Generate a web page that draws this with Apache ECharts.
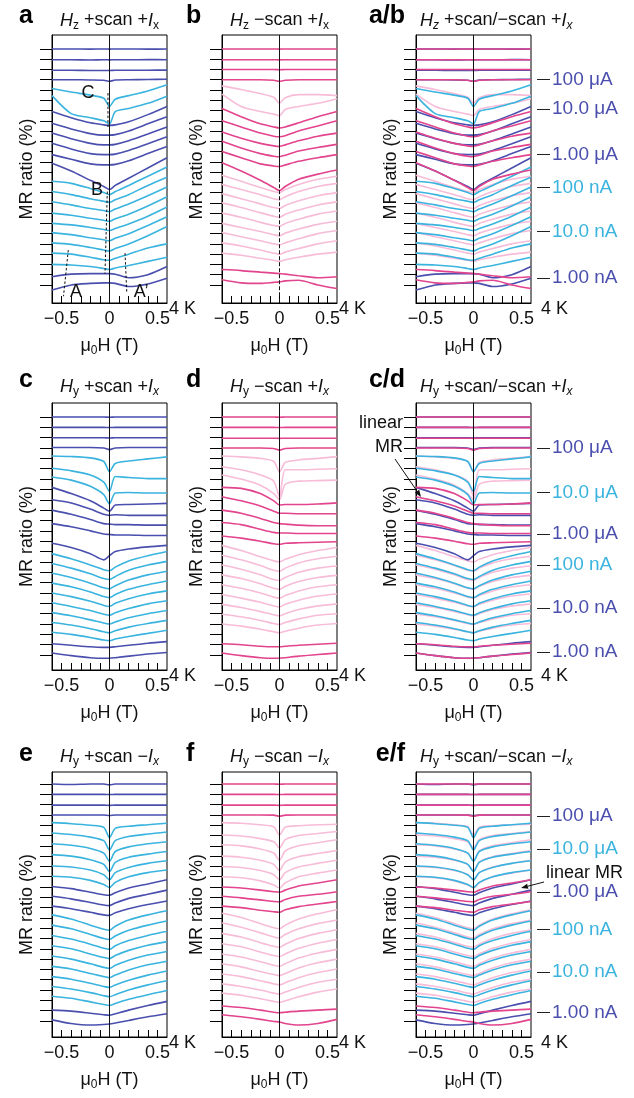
<!DOCTYPE html>
<html><head><meta charset="utf-8">
<script src="https://cdn.jsdelivr.net/npm/echarts@6/dist/echarts.min.js"></script>
<style>html,body{margin:0;padding:0;background:#fff}#c{width:634px;height:1098px}</style>
</head><body><div id="c"></div>
<script>
// ---------------- data ----------------
const fieldT = [-0.6, -0.4, -0.2, -0.06, 0, 0.06, 0.2, 0.4, 0.6];
const xTicks = [-0.5, -0.4, -0.3, -0.2, -0.1, 0, 0.1, 0.2, 0.3, 0.4, 0.5];
const xTickLabels = [-0.5, 0, 0.5];
const yTicks = [0,1,2,3,4,5,6,7,8,9,10,11,12,13,14,15,16,17,18,19,20,21,22,23];

const tonesA = 'DDDDCCDDDDDDCCCCCCCCCDD'.split('');
const curvesA = [
 [0,0,0.02,0,0.02,0,0,0.02,0],
 [1.05,1.05,1.07,1.05,1.06,1.05,1.05,1.04,1.05],
 [2.08,2.08,2.1,2.1,2.1,2.08,2.08,2.07,2.06],
 [3.0,3.0,3.02,3.05,3.15,3.03,3.0,2.98,2.95],
 [3.85,4.2,4.5,4.8,5.6,4.9,4.55,4.1,3.5],
 [4.55,6.3,6.7,7.0,7.3,6.1,5.8,5.3,4.6],
 [6.1,6.7,7.2,7.4,7.45,7.4,7.1,6.4,5.6],
 [7.25,7.8,8.25,8.4,8.4,8.35,8.0,7.3,6.6],
 [8.2,8.75,9.2,9.35,9.35,9.3,8.95,8.3,7.6],
 [9.2,9.75,10.2,10.3,10.3,10.25,9.9,9.25,8.55],
 [10.3,10.75,11.2,11.3,11.3,11.25,10.9,10.2,9.5],
 [11.15,11.9,12.8,13.4,13.7,13.3,12.6,11.6,10.6],
 [12.9,13.1,13.6,14.0,14.2,13.9,13.3,12.4,11.5],
 [13.9,14.2,14.6,14.85,14.95,14.7,14.2,13.3,12.5],
 [14.9,15.2,15.55,15.75,15.85,15.6,15.1,14.3,13.45],
 [16.0,16.2,16.5,16.7,16.8,16.55,16.1,15.3,14.4],
 [17.0,17.15,17.4,17.6,17.7,17.5,17.05,16.3,15.4],
 [17.9,18.1,18.4,18.6,18.7,18.45,18.0,17.2,16.35],
 [18.9,19.05,19.35,19.6,19.7,19.45,19.0,18.2,17.3],
 [19.9,20.0,20.3,20.55,20.6,20.4,20.0,19.4,19.0],
 [21.0,21.05,21.2,21.4,21.5,21.35,21.1,20.7,20.3],
 [22.2,21.95,21.9,21.9,21.9,21.95,22.3,22.0,21.2],
 [23.5,23.0,22.85,22.8,22.8,22.85,23.15,22.9,22.35]
];

const tonesB = 'PPPPLLPPPPPPLLLLLLLLLPP'.split('');
const curvesB = [
 [0,0,0,0,0.02,0,0,0,0],
 [1.05,1.05,1.05,1.05,1.06,1.05,1.05,1.05,1.05],
 [2.0,2.0,2.0,2.0,2.02,2.0,2.0,2.0,2.0],
 [3.0,3.0,3.0,3.05,3.15,3.05,3.0,3.0,3.0],
 [3.6,3.95,4.35,4.7,5.3,4.75,4.45,4.45,4.55],
 [4.4,5.6,6.1,6.35,6.5,5.9,5.6,5.3,4.85],
 [5.8,6.6,7.3,7.6,7.7,7.6,7.2,6.6,6.1],
 [7.0,7.6,8.2,8.5,8.55,8.45,8.0,7.5,7.0],
 [8.1,8.7,9.2,9.45,9.5,9.35,8.95,8.5,8.2],
 [9.0,9.65,10.2,10.45,10.5,10.35,9.95,9.6,9.3],
 [10.0,10.6,11.2,11.4,11.45,11.3,10.95,10.6,10.3],
 [11.1,11.9,12.8,13.5,13.8,13.4,12.7,12.2,11.8],
 [12.3,12.9,13.5,13.9,14.0,13.7,13.2,12.7,12.4],
 [13.2,13.7,14.2,14.6,14.7,14.4,13.9,13.4,13.1],
 [14.1,14.6,15.1,15.45,15.55,15.25,14.8,14.3,14.0],
 [15.0,15.45,15.95,16.3,16.4,16.1,15.7,15.2,14.9],
 [16.0,16.4,16.9,17.2,17.3,17.0,16.6,16.1,15.8],
 [17.0,17.4,17.8,18.1,18.2,17.95,17.55,17.1,16.8],
 [17.9,18.3,18.7,19.0,19.1,18.9,18.5,18.0,17.7],
 [18.9,19.2,19.6,19.9,20.0,19.8,19.45,19.0,18.7],
 [19.9,20.1,20.4,20.6,20.7,20.55,20.3,20.0,19.8],
 [21.5,21.6,21.75,21.85,21.9,21.95,22.1,22.3,22.2],
 [22.5,22.8,22.85,22.75,22.7,22.6,22.55,23.0,23.35]
];

const tonesC = 'DDDDCCCDDDDDCCCCCCCCCDD'.split('');
const curvesC = [
 [0,0,0,0,0.02,0,0,0,0],
 [1.0,1.0,1.0,1.0,1.02,1.0,1.0,1.0,1.0],
 [2.0,2.0,2.0,2.0,2.03,2.0,2.0,2.0,2.0],
 [2.95,2.95,2.95,3.0,3.15,3.0,2.95,2.95,2.95],
 [3.77,3.82,3.95,4.3,5.3,4.5,4.25,4.05,3.85],
 [4.95,5.2,5.6,6.3,7.2,5.75,5.85,5.95,5.95],
 [5.8,6.1,6.7,7.5,8.4,7.35,7.3,7.35,7.35],
 [6.8,7.4,8.1,8.8,9.1,8.5,8.45,8.4,8.35],
 [8.0,8.3,8.9,9.4,9.5,9.45,9.5,9.5,9.5],
 [9.0,9.4,9.9,10.3,10.35,10.4,10.4,10.45,10.45],
 [10.3,10.6,11.0,11.3,11.35,11.4,11.4,11.45,11.45],
 [12.2,12.6,13.2,13.8,13.4,13.0,12.75,12.55,12.4],
 [13.2,13.7,14.3,14.75,14.85,14.5,13.9,13.4,13.0],
 [14.15,14.6,15.15,15.6,15.7,15.4,14.8,14.3,13.95],
 [15.1,15.5,16.05,16.5,16.6,16.3,15.75,15.25,14.9],
 [16.05,16.4,16.9,17.35,17.45,17.15,16.65,16.2,15.85],
 [17.0,17.35,17.8,18.2,18.3,18.0,17.55,17.1,16.8],
 [17.95,18.3,18.7,19.05,19.15,18.9,18.5,18.05,17.75],
 [18.9,19.2,19.6,19.9,20.0,19.8,19.4,19.0,18.7],
 [19.85,20.1,20.45,20.75,20.85,20.65,20.3,19.95,19.65],
 [20.8,21.0,21.3,21.55,21.6,21.45,21.2,20.9,20.6],
 [21.9,22.05,22.2,22.25,22.25,22.2,22.05,21.85,21.7],
 [22.8,23.05,23.25,23.3,23.3,23.25,23.1,22.9,22.75]
];

const tonesD = 'PPPPLLLPPPPPLLLLLLLLLPP'.split('');
const curvesD = [
 [0,0,0,0,0.02,0,0,0,0],
 [1.0,1.0,1.0,1.0,1.02,1.0,1.0,1.0,1.0],
 [2.05,2.05,2.05,2.05,2.07,2.05,2.05,2.05,2.05],
 [3.0,3.0,3.0,3.05,3.2,3.05,3.0,3.0,3.0],
 [3.77,3.85,4.0,4.3,5.3,4.4,4.15,4.0,3.83],
 [4.8,5.1,5.6,6.2,7.7,5.1,5.1,5.05,5.0],
 [5.6,6.0,6.6,7.4,8.0,6.5,6.2,6.15,6.1],
 [6.8,6.9,7.4,8.1,8.5,8.45,8.45,8.4,8.3],
 [7.7,8.1,8.6,9.1,9.3,9.3,9.35,9.35,9.35],
 [9.0,9.3,9.8,10.2,10.3,10.35,10.45,10.5,10.5],
 [10.2,10.4,10.85,11.15,11.2,11.2,11.25,11.25,11.25],
 [11.5,11.7,12.0,12.25,12.3,12.2,12.15,12.1,12.05],
 [12.4,12.9,13.5,13.9,14.0,13.75,13.3,12.9,12.6],
 [13.35,13.8,14.35,14.8,14.9,14.6,14.1,13.7,13.45],
 [14.3,14.7,15.25,15.7,15.8,15.5,15.0,14.6,14.4],
 [15.25,15.6,16.1,16.55,16.65,16.35,15.9,15.5,15.3],
 [16.2,16.55,17.0,17.4,17.5,17.25,16.8,16.4,16.2],
 [17.15,17.5,17.9,18.25,18.35,18.1,17.7,17.3,17.1],
 [18.1,18.4,18.8,19.1,19.2,19.0,18.6,18.25,18.05],
 [19.05,19.3,19.65,19.95,20.05,19.85,19.5,19.15,19.0],
 [20.0,20.2,20.5,20.75,20.85,20.7,20.4,20.1,19.95],
 [21.9,22.0,22.15,22.2,22.2,22.15,22.05,21.95,21.85],
 [22.8,23.05,23.25,23.3,23.3,23.25,23.1,22.95,22.8]
];

const tonesE = 'DDDDCCCCCCDDDCCCCCCCCCDD'.split('');
const curvesE = [
 [0,0.05,0,0,0.08,0,0,0,0],
 [1.0,1.0,1.0,1.0,1.02,1.0,1.0,1.0,1.0],
 [2.05,2.05,2.05,2.05,2.07,2.05,2.05,2.05,2.05],
 [3.0,3.0,3.0,3.0,3.05,3.0,3.0,3.0,3.0],
 [3.75,3.85,4.0,4.2,5.2,4.3,4.1,3.95,3.8],
 [4.75,4.9,5.15,5.5,6.4,5.5,5.1,4.85,4.65],
 [5.8,5.95,6.25,6.7,7.5,6.55,6.1,5.8,5.6],
 [6.85,7.0,7.35,7.8,8.5,7.6,7.1,6.8,6.55],
 [7.95,8.05,8.35,8.8,9.3,8.6,8.1,7.7,7.45],
 [8.95,9.05,9.35,9.75,10.05,9.55,9.0,8.6,8.35],
 [9.95,10.15,10.5,10.75,10.8,10.55,10.1,9.7,9.3],
 [10.9,11.15,11.5,11.75,11.8,11.55,11.1,10.7,10.3],
 [11.85,12.1,12.45,12.7,12.75,12.5,12.1,11.7,11.35],
 [12.7,13.1,13.7,14.1,14.2,13.8,13.2,12.7,12.3],
 [13.7,14.05,14.6,15.0,15.1,14.75,14.2,13.7,13.3],
 [14.7,15.05,15.55,15.95,16.05,15.7,15.2,14.7,14.3],
 [15.7,16.0,16.5,16.85,16.95,16.65,16.15,15.65,15.3],
 [16.7,17.0,17.45,17.8,17.9,17.6,17.1,16.6,16.25],
 [17.7,17.95,18.4,18.7,18.8,18.55,18.05,17.55,17.2],
 [18.7,18.95,19.35,19.65,19.75,19.5,19.05,18.55,18.15],
 [19.65,19.9,20.25,20.55,20.65,20.45,20.0,19.5,19.1],
 [20.6,20.8,21.15,21.4,21.5,21.3,20.9,20.45,20.05],
 [21.95,22.05,22.25,22.4,22.45,22.3,21.95,21.5,21.1],
 [22.9,23.25,23.4,23.35,23.3,23.2,22.95,22.6,22.3]
];

const tonesF = 'PPPPLLLLLLPPPLLLLLLLLLPP'.split('');
const curvesF = [
 [0,0,0,0,0.02,0,0,0,0],
 [1.0,1.0,1.0,1.0,1.02,1.0,1.0,1.0,1.0],
 [2.05,2.05,2.05,2.05,2.07,2.05,2.05,2.05,2.05],
 [3.0,3.0,3.0,3.02,3.12,3.02,3.0,3.0,3.0],
 [3.75,3.8,3.95,4.15,4.95,4.2,4.05,3.95,3.9],
 [4.95,5.05,5.3,5.6,6.2,5.4,5.0,4.8,4.6],
 [5.9,6.0,6.3,6.7,7.4,6.5,6.0,5.7,5.4],
 [7.0,7.1,7.4,7.8,8.4,7.55,7.05,6.75,6.45],
 [8.0,8.1,8.4,8.8,9.3,8.6,8.05,7.7,7.4],
 [9.0,9.1,9.4,9.8,10.1,9.6,9.0,8.65,8.35],
 [10.0,10.1,10.3,10.45,10.5,10.3,9.9,9.6,9.3],
 [10.9,11.05,11.25,11.4,11.45,11.2,10.9,10.7,10.45],
 [11.85,12.0,12.25,12.4,12.45,12.2,11.9,11.65,11.4],
 [12.55,12.95,13.55,13.95,14.05,13.7,13.1,12.6,12.2],
 [13.5,13.9,14.45,14.85,14.95,14.6,14.05,13.55,13.2],
 [14.5,14.85,15.4,15.75,15.85,15.55,15.0,14.5,14.15],
 [15.5,15.8,16.3,16.65,16.75,16.5,15.95,15.45,15.1],
 [16.5,16.8,17.25,17.6,17.7,17.45,16.9,16.4,16.05],
 [17.45,17.75,18.2,18.5,18.6,18.4,17.85,17.35,17.0],
 [18.45,18.7,19.1,19.4,19.5,19.3,18.8,18.3,17.95],
 [19.4,19.65,20.0,20.3,20.4,20.2,19.75,19.25,18.95],
 [20.3,20.5,20.85,21.1,21.2,21.05,20.65,20.2,19.9],
 [21.55,21.7,21.95,22.15,22.2,22.15,22.05,21.95,21.85],
 [22.4,22.6,22.85,23.05,23.1,23.25,23.4,23.25,22.85]
];

const currentLabels = ['100 μA','10.0 μA','1.00 μA','100 nA','10.0 nA','1.00 nA'];
const currentPosAB = [3.0, 5.85, 10.3, 13.5, 17.8, 22.3];
const currentToneAB = ['D','D','D','C','C','D'];
const currentPosCD = [3.0, 7.3, 11.3, 14.3, 18.45, 22.7];
const currentToneCD = ['D','C','D','C','D','D'];
const currentPosEF = [3.1, 6.3, 10.5, 14.1, 18.25, 22.2];
const currentToneEF = ['D','C','D','C','C','D'];

// annotation marks of panel a (field, curve units)
const annoLinesA = [[-0.016,4.3,-0.016,7.6],[-0.023,13.9,-0.047,21.9],[-0.43,19.6,-0.48,24.1],[0.162,19.9,0.18,23.65]];
const annoTextA = [['C',-0.224,4.3],['B',-0.13,13.75],['A',-0.35,23.7],['A\u2019',0.33,23.7]];

// ---------------- layout / style ----------------
const FONT = '"Liberation Sans", Arial, Helvetica, sans-serif';
const TONE = {D:'#4a4fae', C:'#3ab4df', P:'#e2448d', L:'#f7bcd8'};
const TONE_Z = {L:2, C:3, D:4, P:5};
const colLeft = [52, 222, 416];
const plotW = 115;
const rowsL = [
  {top:35, h:268, min:-1.36, max:24.76, title:20.5, letter:16},
  {top:403, h:267, min:-1.35, max:24.44, title:387, letter:380},
  {top:772, h:265, min:-1.17, max:24.56, title:757, letter:754}
];
const sets = {A:[tonesA,curvesA], B:[tonesB,curvesB], C:[tonesC,curvesC], D:[tonesD,curvesD], E:[tonesE,curvesE], F:[tonesF,curvesF]};
const panels = [
 {row:0,col:0,letter:'a',title:'{i|H}{s|z} +scan +{i|I}{s|x}',data:['A']},
 {row:0,col:1,letter:'b',title:'{i|H}{s|z} \u2212scan +{i|I}{s|x}',data:['B'],dashed:true},
 {row:0,col:2,letter:'a/b',title:'{i|H}{si|z} +scan/\u2212scan +{i|I}{si|x}',data:['A','B'],right:[currentPosAB,currentToneAB]},
 {row:1,col:0,letter:'c',title:'{i|H}{s|y} +scan +{i|I}{si|x}',data:['C']},
 {row:1,col:1,letter:'d',title:'{i|H}{s|y} \u2212scan +{i|I}{si|x}',data:['D']},
 {row:1,col:2,letter:'c/d',title:'{i|H}{s|y} +scan/\u2212scan +{i|I}{si|x}',data:['C','D'],right:[currentPosCD,currentToneCD]},
 {row:2,col:0,letter:'e',title:'{i|H}{s|y} +scan \u2212{i|I}{si|x}',data:['E']},
 {row:2,col:1,letter:'f',title:'{i|H}{s|y} \u2212scan \u2212{i|I}{si|x}',data:['F']},
 {row:2,col:2,letter:'e/f',title:'{i|H}{s|y} +scan/\u2212scan \u2212{i|I}{si|x}',data:['E','F'],right:[currentPosEF,currentToneEF]}
];

const grids=[], xAxes=[], yAxes=[], series=[], graphic=[];
const titleRich = {
  i:{fontFamily:FONT,fontSize:18,fontStyle:'italic',color:'#111',lineHeight:22},
  s:{fontFamily:FONT,fontSize:12,color:'#111',verticalAlign:'bottom',lineHeight:13},
  si:{fontFamily:FONT,fontSize:12,fontStyle:'italic',color:'#111',verticalAlign:'bottom',lineHeight:13}
};
const nameRich = {
  a:{fontFamily:FONT,fontSize:18,color:'#111',lineHeight:22},
  s:{fontFamily:FONT,fontSize:12,color:'#111',verticalAlign:'bottom',lineHeight:13}
};
const fmtX = v => Math.abs(v) < 1e-9 ? '0' : (v < 0 ? '\u2212' : '') + Math.abs(v).toFixed(1);

panels.forEach((p, pi) => {
  const r = rowsL[p.row];
  const left = colLeft[p.col];
  grids.push({left:left, top:r.top, width:plotW, height:r.h, show:true, borderColor:'#000', borderWidth:1,
              backgroundColor:'transparent', containLabel:false, outerBoundsMode:'none'});
  xAxes.push({gridIndex:pi, type:'value', min:-0.6, max:0.6,
    axisLine:{show:true, onZero:false, lineStyle:{color:'#000', width:1}},
    axisTick:{show:true, inside:true, length:7, customValues:xTicks, lineStyle:{color:'#000', width:1}},
    axisLabel:{show:true, customValues:xTickLabels, formatter:fmtX, fontFamily:FONT, fontSize:18, color:'#111', margin:7},
    splitLine:{show:false},
    name:'{a|\u03bc}{s|0}{a|H (T)}', nameLocation:'middle', nameGap:32,
    nameTextStyle:{rich:nameRich, fontFamily:FONT, fontSize:18, color:'#111'}
  });
  const yIdx = yAxes.length;
  yAxes.push({gridIndex:pi, type:'value', inverse:true, min:r.min, max:r.max, position:'left',
    axisLine:{show:true, onZero:false, lineStyle:{color:'#000', width:1}},
    axisTick:{show:true, inside:false, length:12, customValues:yTicks, lineStyle:{color:'#000', width:1}},
    axisLabel:{show:false}, splitLine:{show:false},
    name:'MR ratio (%)', nameLocation:'middle', nameGap:16,
    nameTextStyle:{fontFamily:FONT, fontSize:18, color:'#111'}
  });
  if (p.right) {
    const pos = p.right[0], tones = p.right[1];
    yAxes.push({gridIndex:pi, type:'value', inverse:true, min:r.min, max:r.max, position:'right', offset:6,
      axisLine:{show:false, onZero:false},
      axisTick:{show:true, inside:false, length:13, customValues:pos, lineStyle:{color:'#222', width:1}},
      axisLabel:{show:true, customValues:pos, margin:15,
        formatter:(v) => { let k = 0; pos.forEach((q, j) => { if (Math.abs(q - v) < Math.abs(pos[k] - v)) k = j; });
                           return '{' + tones[k] + '|' + currentLabels[k] + '}'; },
        rich:{D:{fontFamily:FONT,fontSize:19,color:'#4a4fae'}, C:{fontFamily:FONT,fontSize:19,color:'#3ab4df'}}},
      splitLine:{show:false}
    });
  }
  let first = true;
  p.data.forEach(key => {
    const [tones, curves] = sets[key];
    curves.forEach((vals, ci) => {
      const tone = tones[ci];
      const s = {type:'line', xAxisIndex:pi, yAxisIndex:yIdx, data:fieldT.map((x, k) => [x, vals[k]]),
        showSymbol:false, symbol:'none', smooth:0.25, silent:true, animation:false,
        lineStyle:{color:TONE[tone], width:1.6}, z:TONE_Z[tone]};
      if (first) {
        first = false;
        s.markLine = {silent:true, symbol:'none', label:{show:false}, animation:false, z:10,
          lineStyle:{color:'#111', width:1, type:'solid'},
          data: p.dashed ? [[{coord:[0,r.min]},{coord:[0,12.6]}],[{coord:[0,12.6],lineStyle:{type:[4,2]}},{coord:[0,r.max]}]] : [{xAxis:0}]};
      }
      series.push(s);
    });
  });
  const titleX = p.col === 2 ? left + 4 : left + plotW / 2;
  graphic.push({type:'text', x:titleX, y:r.title, silent:true,
    style:{text:p.title, rich:titleRich, fontFamily:FONT, fontSize:18, fill:'#111', align:p.col === 2 ? 'left' : 'center', verticalAlign:'middle'}});
  const letterX = p.col === 0 ? 19 : (p.col === 1 ? 186 : 405);
  graphic.push({type:'text', x:letterX, y:r.letter, silent:true,
    style:{text:p.letter, fontFamily:FONT, fontSize:25, fontWeight:'bold', fill:'#000', align:p.col === 2 ? 'right' : 'left', verticalAlign:'middle'}});
  graphic.push({type:'text', x:left + plotW + (p.col === 2 ? 10 : 2), y:r.top + r.h + 6, silent:true,
    style:{text:'4 K', fontFamily:FONT, fontSize:18, fill:'#111', align:'left', verticalAlign:'middle'}});
});

const chart = echarts.init(document.getElementById('c'), null, {renderer:'canvas', width:634, height:1098});
chart.setOption({animation:false, backgroundColor:'#fff', grid:grids, xAxis:xAxes, yAxis:yAxes, series:series});

const toPx = (x, y) => chart.convertToPixel({xAxisIndex:0, yAxisIndex:0}, [x, y]);
annoLinesA.forEach(l => {
  const a = toPx(l[0], l[1]), b = toPx(l[2], l[3]);
  graphic.push({type:'line', silent:true, z:20, shape:{x1:a[0], y1:a[1], x2:b[0], y2:b[1]},
    style:{stroke:'#111', lineWidth:1, lineDash:[2.5, 2]}});
});
annoTextA.forEach(t => {
  const a = toPx(t[1], t[2]);
  graphic.push({type:'text', x:a[0], y:a[1], silent:true, z:20,
    style:{text:t[0], fontFamily:FONT, fontSize:18, fill:'#111', align:'center', verticalAlign:'middle'}});
});
function arrow(x1, y1, x2, y2) {
  const dx = x2 - x1, dy = y2 - y1, L = Math.hypot(dx, dy), ux = dx / L, uy = dy / L;
  const bx = x2 - 7 * ux, by = y2 - 7 * uy, nx = -uy, ny = ux;
  graphic.push({type:'line', silent:true, z:20, shape:{x1:x1, y1:y1, x2:bx, y2:by}, style:{stroke:'#111', lineWidth:1}});
  graphic.push({type:'polygon', silent:true, z:20, shape:{points:[[x2, y2],[bx + 2.6 * nx, by + 2.6 * ny],[bx - 2.6 * nx, by - 2.6 * ny]]}, style:{fill:'#111'}});
}
graphic.push({type:'text', x:403, y:423, silent:true, style:{text:'linear', fontFamily:FONT, fontSize:18, fill:'#111', align:'right', verticalAlign:'middle'}});
graphic.push({type:'text', x:403, y:447, silent:true, style:{text:'MR', fontFamily:FONT, fontSize:18, fill:'#111', align:'right', verticalAlign:'middle'}});
arrow(395, 459, 421, 497);
graphic.push({type:'text', x:546, y:873, silent:true, style:{text:'linear MR', fontFamily:FONT, fontSize:18, fill:'#111', align:'left', verticalAlign:'middle'}});
arrow(544, 882, 521, 888);

chart.setOption({graphic:graphic});
</script>
</body></html>
